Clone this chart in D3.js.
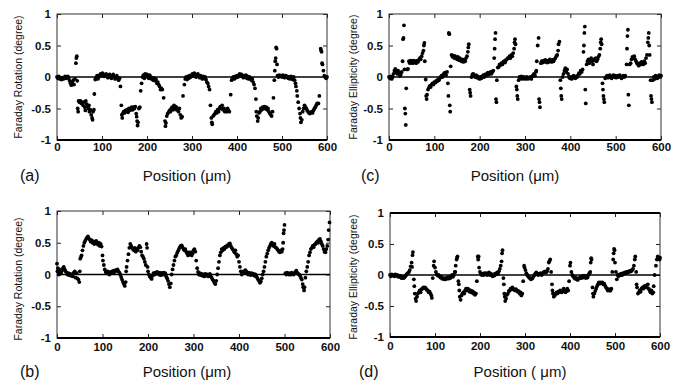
<!DOCTYPE html>
<html>
<head>
<meta charset="utf-8">
<script src="https://cdn.jsdelivr.net/npm/d3@7"></script>
<style>
  body { margin: 0; background: #fff; }
  text { font-family: "Liberation Sans", Arial, sans-serif; fill: #111; }
</style>
</head>
<body>
<svg id="chart" width="680" height="381"></svg>
<script>
// axis ticks shared by all four panels
const positionTicks = [0, 100, 200, 300, 400, 500, 600];
const degreeTicks = [-1, -0.5, 0, 0.5, 1];
const degreeLabels = ['-1', '-0.5', '0', '0.5', '1'];

// (a) Faraday rotation, [position um, degree]
const rotationA = [
  [0,0],[2,-0.02],[4,0.01],[6,-0.03],[8,-0.02],[10,-0.04],[12,-0.01],[14,-0.03],[16,-0.02],[18,0.01],[20,-0.02],[22,0],[24,0.01],[26,-0.02],[28,-0.06],[30,-0.1],[32,-0.13],[34,-0.08],[36,-0.05],[38,-0.12],[40,-0.03],[42,0.22],[43,0.3],[44,0.33],[45,-0.06],
  [46,-0.5],[47,-0.55],[48,-0.38],[50,-0.4],[52,-0.38],[54,-0.42],[56,-0.4],[58,-0.45],[60,-0.4],[62,-0.48],[63,-0.53],[64,-0.38],[66,-0.43],[68,-0.47],[70,-0.5],[71,-0.45],[72,-0.55],[74,-0.52],[76,-0.6],[78,-0.65],[79,-0.68],[80,-0.55],[82,-0.52],[83,-0.27],
  [85,-0.04],[87,-0.01],[89,0.02],[91,-0.03],[93,0],[95,0.03],[97,0.05],[99,0.02],[101,0.06],[103,0.04],[105,0.01],[107,0.03],[109,0.05],[111,0.02],[113,-0.01],[115,0.02],[117,0.04],[119,0],[121,-0.02],[123,0.02],[125,0.04],[127,0.01],[129,-0.03],[131,0],[133,0.02],[135,-0.02],[137,-0.05],[139,-0.02],[141,-0.15],
  [143,-0.45],[144,-0.6],[145,-0.65],[146,-0.58],[148,-0.55],[150,-0.57],[152,-0.53],[154,-0.55],[156,-0.52],[158,-0.56],[160,-0.5],[162,-0.53],[164,-0.5],[166,-0.48],[168,-0.52],[170,-0.48],[172,-0.5],[174,-0.47],[176,-0.58],[177,-0.63],[178,-0.7],[179,-0.77],[180,-0.72],[182,-0.5],[184,-0.48],[186,-0.22],
  [188,-0.1],[190,0],[192,0.03],[194,-0.02],[196,0.05],[198,0.02],[200,0.04],[202,0],[204,-0.02],[206,0.03],[208,0],[210,-0.03],[212,-0.01],[214,-0.05],[216,-0.02],[218,-0.06],[220,-0.04],[222,-0.1],[224,-0.08],[226,-0.12],[228,-0.15],[230,-0.2],[232,-0.18],[234,-0.2],[237,-0.33],
  [240,-0.7],[241,-0.78],[242,-0.73],[244,-0.62],[246,-0.58],[248,-0.56],[250,-0.53],[252,-0.55],[254,-0.5],[256,-0.48],[258,-0.52],[260,-0.45],[262,-0.5],[264,-0.47],[266,-0.52],[268,-0.5],[270,-0.55],[272,-0.5],[274,-0.6],[276,-0.65],[278,-0.63],[280,-0.3],
  [283,-0.12],[285,-0.03],[287,0],[289,-0.04],[291,0.01],[293,-0.02],[295,0.02],[297,0],[299,0.03],[301,0.05],[303,0.02],[305,0.06],[307,0.04],[309,0],[311,0.03],[313,0.05],[315,0.01],[317,-0.01],[319,0.02],[321,0],[323,-0.03],[325,0.01],[327,-0.02],[329,0],[331,-0.04],[333,-0.08],[335,-0.1],[337,-0.15],[339,-0.2],
  [341,-0.45],[343,-0.65],[344,-0.72],[345,-0.75],[347,-0.62],[349,-0.6],[351,-0.58],[353,-0.55],[355,-0.57],[357,-0.52],[359,-0.55],[361,-0.5],[363,-0.47],[365,-0.5],[367,-0.45],[369,-0.52],[371,-0.5],[373,-0.55],[375,-0.52],[377,-0.55],[379,-0.5],[381,-0.53],[383,-0.55],[386,-0.28],
  [388,-0.05],[390,-0.02],[392,0],[394,-0.03],[396,0.01],[398,-0.01],[400,0.02],[402,0],[404,0.03],[406,0.05],[408,0.02],[410,0.04],[412,0.01],[414,-0.01],[416,0.02],[418,0],[420,0.03],[422,-0.02],[424,0.01],[426,-0.03],[428,0],[430,-0.02],[432,-0.05],[434,-0.03],[436,-0.08],[438,-0.12],[440,-0.18],
  [442,-0.35],[443,-0.55],[444,-0.62],[446,-0.7],[447,-0.65],[449,-0.57],[451,-0.55],[453,-0.5],[455,-0.52],[457,-0.48],[459,-0.5],[461,-0.47],[463,-0.5],[465,-0.48],[467,-0.52],[469,-0.5],[471,-0.55],[473,-0.58],[475,-0.6],[477,-0.62],[479,-0.55],[481,-0.33],
  [483,-0.05],[484,0.1],[485,0.25],[486,0.3],[487,0.47],[488,0.45],[489,0.2],[490,0.02],[492,0],[494,0.03],[496,0.01],[498,0.02],[500,0],[502,0.03],[504,0.01],[506,-0.01],[508,0.02],[510,0],[512,0.01],[514,-0.02],[516,0],[518,-0.03],[520,0.01],[522,-0.02],[524,-0.04],[526,0],[528,-0.05],
  [530,-0.1],[531,-0.15],[533,-0.22],[534,-0.3],[536,-0.4],[538,-0.5],[540,-0.58],[541,-0.65],[542,-0.72],[544,-0.68],[546,-0.55],[548,-0.5],[550,-0.45],[552,-0.48],[554,-0.5],[556,-0.53],[558,-0.55],[560,-0.57],[562,-0.58],[564,-0.56],[566,-0.55],[568,-0.57],[570,-0.53],[572,-0.5],[574,-0.48],[576,-0.45],[578,-0.42],[581,-0.42],[583,-0.3],
  [586,0.45],[587,0.42],[588,0.4],[589,0.22],[590,0.2],[592,0.1],[594,0.02],[596,0],[598,-0.02],[600,0]
];

// (b) Faraday rotation
const rotationB = [
  [0,0.17],[1,0.05],[2,0.1],[4,0],[5,0.08],[7,0.04],[9,0.02],[11,0.06],[13,0.1],[15,0.12],[17,0.08],[19,0.05],[21,0.03],[23,0],[25,0.02],[27,-0.01],[29,0.01],[31,-0.02],[33,0],[35,-0.03],[37,0.03],[39,0.05],[41,-0.05],[43,0.02],[45,-0.06],[47,-0.08],[49,-0.12],[50,0.05],
  [51,0.25],[53,0.28],[54,0.3],[56,0.38],[58,0.45],[60,0.5],[62,0.53],[64,0.56],[66,0.58],[68,0.6],[70,0.57],[72,0.55],[74,0.52],[76,0.54],[78,0.5],[80,0.52],[82,0.48],[84,0.5],[86,0.53],[88,0.5],[90,0.47],[92,0.5],[94,0.45],[96,0.48],[98,0.44],
  [100,0.3],[101,0.22],[103,0.15],[105,0.08],[107,0.04],[109,0.02],[111,0.05],[113,0.03],[115,0],[117,0.04],[119,0.02],[121,0.05],[123,0.03],[125,0.06],[127,0.04],[129,0.07],[131,0.06],[133,0.08],[135,0.05],[137,0.03],[139,0],[141,-0.04],[143,-0.08],[145,-0.12],[147,-0.15],[149,-0.18],[151,-0.12],
  [152,0.05],[153,0.12],[155,0.22],[157,0.32],[159,0.42],[161,0.48],[163,0.45],[165,0.42],[167,0.4],[169,0.38],[171,0.42],[173,0.36],[175,0.4],[177,0.38],[179,0.42],[181,0.45],[183,0.43],[185,0.36],[187,0.3],[189,0.28],[191,0.25],[193,0.2],[195,0.15],[197,0.48],[198,0.42],
  [199,0.12],[200,0.05],[202,0],[204,-0.03],[206,-0.05],[208,-0.07],[210,-0.02],[212,0.02],[214,0],[216,0.03],[218,0.01],[220,0.04],[222,0.02],[224,0],[226,0.03],[228,-0.01],[230,0.02],[232,0],[234,0.03],[236,0],[238,0.02],[240,-0.03],[242,-0.06],[244,-0.1],[246,-0.15],[248,-0.2],[250,-0.14],
  [252,0],[254,0.08],[256,0.15],[258,0.22],[260,0.28],[262,0.3],[264,0.34],[266,0.37],[268,0.4],[270,0.43],[272,0.45],[274,0.46],[276,0.43],[278,0.4],[280,0.38],[282,0.4],[284,0.36],[286,0.33],[288,0.3],[290,0.35],[292,0.32],[294,0.35],[296,0.3],[298,0.33],[300,0.38],[302,0.4],[304,0.36],[306,0.22],[308,0.1],[310,0.04],[312,0],
  [314,0.02],[316,-0.01],[318,0.01],[320,-0.02],[322,0],[324,-0.03],[326,0.01],[328,-0.01],[330,0],[332,-0.03],[334,-0.02],[336,0.01],[338,-0.03],[340,-0.05],[342,-0.08],[344,-0.1],[346,-0.13],[348,-0.15],[350,-0.1],
  [352,0],[354,0.1],[356,0.2],[358,0.3],[360,0.35],[362,0.4],[364,0.38],[366,0.42],[368,0.4],[370,0.44],[372,0.43],[374,0.46],[376,0.45],[378,0.48],[380,0.49],[382,0.45],[384,0.42],[386,0.4],[388,0.38],[390,0.35],[392,0.38],[394,0.32],[396,0.28],[398,0.3],[400,0.2],[402,0.12],[404,0.05],[406,0],
  [408,0.02],[410,0.05],[412,0.03],[414,0.07],[416,0.05],[418,0.02],[420,0],[422,0.03],[424,0.01],[426,-0.01],[428,0.02],[430,0],[432,0.01],[434,-0.02],[436,0],[438,-0.03],[440,-0.05],[442,-0.08],[444,-0.1],[446,-0.13],[448,-0.11],[450,-0.06],
  [452,0],[454,0.05],[456,0.12],[458,0.2],[460,0.28],[462,0.33],[464,0.38],[466,0.42],[468,0.45],[470,0.48],[472,0.5],[474,0.47],[476,0.45],[478,0.48],[480,0.43],[482,0.42],[484,0.4],[486,0.38],[488,0.36],[490,0.35],[492,0.38],[494,0.36],[496,0.4],[497,0.5],[498,0.65],[499,0.7],[500,0.78],
  [502,0.02],[504,0],[506,0.03],[508,0.01],[510,0],[512,0.02],[514,0],[516,0.03],[518,0.01],[520,0],[522,0.02],[524,0.04],[526,0.06],[528,0.03],[530,0.01],[532,0],[534,-0.02],[536,-0.05],[538,-0.08],[540,-0.15],[541,-0.2],[543,-0.25],[544,-0.2],
  [546,-0.05],[548,0.05],[550,0.12],[552,0.2],[554,0.3],[556,0.35],[558,0.4],[560,0.42],[562,0.45],[564,0.43],[566,0.47],[568,0.48],[570,0.5],[572,0.52],[574,0.5],[576,0.55],[578,0.56],[580,0.52],[582,0.48],[584,0.45],[586,0.4],[588,0.36],[590,0.35],[592,0.4],[594,0.45],[596,0.55],[597,0.7],[599,0.82]
];

// (c) Faraday ellipticity
const ellipticityC = [
  [0,0],[2,-0.02],[4,0.01],[6,-0.03],[8,0],[10,0.05],[12,0.1],[14,0.13],[16,0.08],[18,0.05],[20,0.1],[22,0.06],[24,0.02],[26,0.04],[28,0.08],[30,0.25],[31,0.6],[32,0.62],[33,0.82],[34,0.12],[35,-0.5],[36,-0.58],[37,-0.76],[38,-0.18],[40,0.12],[42,0.13],
  [44,0.25],[46,0.22],[48,0.26],[50,0.24],[52,0.22],[54,0.26],[56,0.23],[58,0.25],[60,0.22],[62,0.26],[64,0.24],[66,0.27],[68,0.3],[70,0.28],[72,0.33],[74,0.38],[76,0.42],[77,0.5],[78,0.54],[79,0.25],
  [81,-0.04],[82,-0.3],[83,-0.35],[84,-0.28],[86,-0.2],[88,-0.17],[90,-0.14],[92,-0.16],[94,-0.12],[96,-0.1],[98,-0.12],[100,-0.08],[102,-0.09],[104,-0.06],[106,-0.07],[108,-0.04],[110,-0.05],[112,-0.02],[114,0],[116,0.02],[118,0],[120,0.04],[122,0.06],[124,0.07],[126,0.03],[128,0.08],
  [130,-0.1],[131,-0.3],[132,0.7],[133,0.68],[134,-0.45],[135,-0.55],[136,0.17],[138,0.35],[140,0.32],[142,0.34],[144,0.3],[146,0.33],[148,0.3],[150,0.28],[152,0.32],[154,0.27],[156,0.3],[158,0.26],[160,0.25],[162,0.28],[164,0.24],[166,0.27],[168,0.25],[170,0.3],[172,0.33],[174,0.4],[175,0.47],[176,0.52],
  [178,-0.2],[179,-0.25],[180,-0.3],[182,0],[184,0.04],[186,0.05],[188,0.02],[190,0],[192,0.03],[194,-0.01],[196,0.01],[198,-0.02],[200,-0.03],[202,0],[204,-0.02],[206,0.01],[208,0.03],[210,0],[212,0.04],[214,0.02],[216,0.05],[218,0.07],[220,0.04],[222,0.06],[224,0.08],[226,0.05],[228,0.08],[230,0.1],
  [232,0.3],[233,0.45],[234,0.6],[235,0.7],[236,-0.35],[237,-0.4],[238,-0.05],[240,0.15],[242,0.16],[244,0.2],[246,0.19],[248,0.22],[250,0.2],[252,0.24],[254,0.25],[256,0.23],[258,0.27],[260,0.28],[262,0.3],[264,0.3],[266,0.33],[268,0.3],[270,0.35],[272,0.33],[274,0.38],[276,0.45],[277,0.55],[278,0.6],[279,0.52],
  [281,-0.15],[282,-0.2],[283,-0.3],[284,-0.35],[286,-0.05],[288,0],[290,-0.02],[292,0.01],[294,-0.03],[296,-0.01],[298,0],[300,-0.03],[302,-0.02],[304,0],[306,-0.03],[308,-0.01],[310,-0.02],[312,0],[314,-0.03],[316,0.01],[318,0.03],[320,0.05],[322,0.02],[324,0.08],[325,0.1],
  [326,0.25],[328,0.5],[330,0.62],[331,-0.35],[332,-0.4],[333,-0.48],[335,0.22],[337,0.25],[339,0.23],[341,0.26],[343,0.24],[345,0.27],[347,0.25],[349,0.23],[351,0.26],[353,0.24],[355,0.28],[357,0.26],[359,0.24],[361,0.27],[363,0.25],[365,0.28],[367,0.3],[369,0.33],[371,0.35],[373,0.42],[374,0.52],[376,0.56],
  [378,-0.05],[379,-0.18],[380,-0.3],[381,-0.35],[383,0],[385,0.05],[387,0.1],[389,0.14],[391,0.08],[393,0.12],[395,0.05],[397,0],[399,-0.02],[401,0],[403,-0.03],[405,-0.01],[407,0.02],[409,0],[411,-0.02],[413,0.01],[415,0],[417,0.03],[419,0.06],[421,0.05],[423,0.1],[425,0.08],[427,0.12],
  [429,0.4],[430,0.5],[431,0.7],[432,0.8],[433,-0.2],[434,-0.42],[436,0.2],[438,0.25],[440,0.28],[442,0.22],[444,0.27],[446,0.3],[448,0.25],[450,0.2],[452,0.28],[454,0.26],[456,0.3],[458,0.25],[460,0.28],[462,0.32],[464,0.35],[466,0.45],[467,0.55],[468,0.6],[469,0.52],
  [471,-0.1],[472,-0.2],[473,-0.3],[474,-0.35],[475,-0.4],[477,-0.02],[479,0],[481,0.02],[483,-0.01],[485,0],[487,0.03],[489,0],[491,-0.02],[493,0.01],[495,0.03],[497,0],[499,0.02],[501,-0.01],[503,0],[505,0.02],[507,0],[509,0.03],[511,0.01],[513,-0.02],[515,0],[517,0.02],[519,0],[521,0.02],
  [524,0.2],[525,0.45],[526,0.65],[527,0.75],[528,-0.28],[529,-0.45],[531,0.2],[533,0.22],[535,0.28],[537,0.32],[539,0.3],[541,0.33],[543,0.28],[545,0.25],[547,0.22],[549,0.2],[551,0.18],[553,0.22],[555,0.2],[557,0.24],[559,0.22],[561,0.2],[563,0.25],[565,0.22],[567,0.3],[569,0.35],[571,0.55],[572,0.62],[573,0.7],[574,0.5],[575,0.35],
  [577,-0.05],[578,-0.3],[579,-0.35],[580,-0.4],[582,-0.05],[584,0],[586,-0.03],[588,0.02],[590,0],[592,-0.02],[594,0.01],[596,0.03],[598,0],[600,0.02]
];

// (d) Faraday ellipticity
const ellipticityD = [
  [0,0],[2,-0.02],[4,0.01],[6,-0.01],[8,0],[10,-0.02],[12,0.01],[14,-0.01],[16,0],[18,-0.03],[20,-0.02],[22,-0.01],[24,-0.04],[26,-0.05],[28,-0.03],[30,-0.05],[32,-0.04],[34,-0.02],[36,0],[38,0.02],[40,0.03],[42,0.05],[44,0.08],[46,0.14],[48,0.2],[49,0.13],[50,0.32],[51,0.37],
  [53,-0.07],[54,-0.18],[55,-0.3],[57,-0.38],[58,-0.42],[60,-0.35],[62,-0.3],[64,-0.28],[66,-0.25],[68,-0.28],[70,-0.23],[72,-0.22],[74,-0.2],[76,-0.21],[78,-0.2],[80,-0.22],[82,-0.24],[84,-0.25],[86,-0.28],[88,-0.27],[90,-0.3],[92,-0.33],[93,-0.37],[95,-0.05],
  [97,0.15],[98,0.22],[100,0.12],[102,0.05],[104,0.01],[106,-0.01],[108,0],[110,-0.02],[112,-0.04],[114,-0.03],[116,-0.06],[118,-0.05],[120,-0.07],[122,-0.05],[124,-0.07],[126,-0.05],[128,-0.04],[130,-0.06],[132,-0.03],[134,-0.05],[136,-0.02],[138,0],[140,-0.03],[142,0],[144,0.05],
  [145,0.05],[146,0.15],[148,0.25],[149,0.28],[150,0.3],[152,-0.1],[153,-0.15],[154,-0.25],[155,-0.35],[157,-0.4],[159,-0.33],[161,-0.3],[163,-0.28],[165,-0.3],[167,-0.25],[169,-0.22],[171,-0.25],[173,-0.22],[175,-0.24],[177,-0.27],[179,-0.25],[181,-0.28],[183,-0.26],[185,-0.3],[187,-0.28],[189,-0.32],[191,-0.3],[193,-0.1],
  [195,0.3],[196,0.25],[197,0.3],[198,0.12],[200,0.05],[202,0.02],[204,0],[206,0.02],[208,0],[210,0.03],[212,0.01],[214,0.03],[216,0],[218,0.02],[220,0.04],[222,0],[224,0.02],[226,0],[228,-0.02],[230,0.01],[232,-0.01],[234,0.02],[236,0.01],[238,0.04],[240,0.02],[242,0.06],[244,0.1],[246,0.15],[248,0.22],[249,0.35],[250,0.4],
  [252,-0.05],[253,-0.15],[254,-0.3],[255,-0.35],[256,-0.42],[258,-0.38],[260,-0.32],[262,-0.3],[264,-0.26],[266,-0.25],[268,-0.22],[270,-0.23],[272,-0.2],[274,-0.22],[276,-0.24],[278,-0.25],[280,-0.23],[282,-0.25],[284,-0.27],[286,-0.26],[288,-0.3],[290,-0.28],[292,-0.33],[294,-0.3],[296,-0.1],
  [298,0.15],[299,0.12],[301,0.08],[303,0.03],[305,0],[307,-0.02],[309,-0.04],[311,-0.05],[313,-0.07],[315,-0.06],[317,-0.05],[319,-0.02],[321,0],[323,0.02],[325,0.04],[327,0.02],[329,0],[331,0.02],[333,0.01],[335,0.03],[337,0],[339,0.02],[341,0.04],[343,0.05],[345,0.06],[347,0.04],[349,0.06],[351,0.1],
  [353,0.2],[354,0.22],[356,0.25],[358,0.05],[360,-0.15],[361,-0.25],[362,-0.3],[364,-0.35],[366,-0.33],[368,-0.3],[370,-0.28],[372,-0.3],[374,-0.27],[376,-0.28],[378,-0.25],[380,-0.27],[382,-0.28],[384,-0.25],[386,-0.22],[388,-0.25],[390,-0.28],[392,-0.26],[394,-0.22],[396,-0.25],[398,-0.1],
  [400,0.15],[401,0.2],[403,0.05],[405,0],[407,-0.02],[409,-0.04],[411,-0.06],[413,-0.04],[415,-0.07],[417,-0.08],[419,-0.06],[421,-0.05],[423,-0.03],[425,-0.05],[427,-0.02],[429,-0.04],[431,-0.01],[433,-0.03],[435,-0.05],[437,-0.02],[439,-0.04],[441,0],[443,0.03],[445,0.05],
  [446,0.2],[447,0.27],[448,0.25],[450,-0.2],[451,-0.3],[452,-0.35],[454,-0.3],[456,-0.26],[458,-0.22],[460,-0.18],[462,-0.15],[464,-0.12],[466,-0.14],[468,-0.12],[470,-0.13],[472,-0.12],[474,-0.15],[476,-0.14],[478,-0.17],[480,-0.2],[482,-0.22],[484,-0.25],[486,-0.23],[488,-0.25],[490,-0.25],[492,-0.22],
  [494,0.05],[496,0.25],[497,0.35],[498,0.42],[499,0.4],[500,0.2],[502,0.05],[504,-0.07],[506,0],[508,-0.02],[510,0.01],[512,0],[514,0.02],[516,0],[518,0.03],[520,0.02],[522,0.04],[524,0.03],[526,0.05],[528,0.04],[530,0.06],[532,0.05],[534,0.07],[536,0.06],[538,0.08],[540,0.1],[542,0.15],[544,0.25],[545,0.3],[547,0.05],[548,-0.15],[549,-0.2],
  [551,-0.3],[553,-0.28],[555,-0.25],[557,-0.27],[559,-0.22],[561,-0.2],[563,-0.22],[565,-0.18],[567,-0.2],[569,-0.17],[571,-0.2],[573,-0.15],[575,-0.22],[577,-0.25],[579,-0.28],[581,-0.25],[583,-0.3],[585,-0.28],[586,-0.18],
  [588,0],[591,0.15],[593,0.25],[595,0.3],[597,0.27],[599,0.25],[600,0.28]
];

const panels = [
  { data: rotationA, letter: '(a)', yTitle: 'Faraday Rotation (degree)', xTitle: 'Position (\u03bcm)',
    left: 57, right: 327, top: 14, bottom: 140, pad: 3, titleX: 18, titleY: 77, letterX: 20, letterY: 181, xTitleX: 187, xTitleY: 181, thickTop: false },
  { data: rotationB, letter: '(b)', yTitle: 'Faraday Rotation (degree)', xTitle: 'Position (\u03bcm)',
    left: 57, right: 330, top: 211, bottom: 338, pad: 5, titleX: 18, titleY: 279, letterX: 20, letterY: 377, xTitleX: 187, xTitleY: 377, thickTop: false },
  { data: ellipticityC, letter: '(c)', yTitle: 'Faraday Ellipticity (degree)', xTitle: 'Position (\u03bcm)',
    left: 389, right: 661, top: 14, bottom: 140, pad: 3, titleX: 353, titleY: 77, letterX: 361, letterY: 181, xTitleX: 515, xTitleY: 181, thickTop: false },
  { data: ellipticityD, letter: '(d)', yTitle: 'Faraday Ellipticity (degree)', xTitle: 'Position ( \u03bcm)',
    left: 390, right: 660, top: 213, bottom: 337, pad: 5, titleX: 353, titleY: 277, letterX: 359, letterY: 377, xTitleX: 520, xTitleY: 377, thickTop: true }
];

const svg = d3.select('#chart');

panels.forEach(p => drawPanel(p));

function drawPanel(p) {
  const x = d3.scaleLinear().domain([0, 600]).range([p.left, p.right]);
  const y = d3.scaleLinear().domain([-1, 1]).range([p.bottom, p.top]);
  const g = svg.append('g');

  // inward ticks on all four sides, labels only left and bottom
  const tickStyle = sel => {
    sel.select('.domain').remove();
    sel.selectAll('line').attr('stroke', '#222');
    sel.selectAll('text').style('font-size', '11.5px').style('font-weight', 'bold').attr('fill', '#111');
  };
  g.append('g').attr('transform', `translate(0,${p.bottom})`)
    .call(d3.axisBottom(x).tickValues(positionTicks).tickSize(-4).tickPadding(p.pad))
    .call(tickStyle);
  g.append('g').attr('transform', `translate(0,${p.top})`)
    .call(d3.axisTop(x).tickValues(positionTicks).tickSize(-4).tickFormat(''))
    .call(tickStyle);
  g.append('g').attr('transform', `translate(${p.left},0)`)
    .call(d3.axisLeft(y).tickValues(degreeTicks).tickSize(-4).tickPadding(6).tickFormat((d, i) => degreeLabels[i]))
    .call(tickStyle);
  g.append('g').attr('transform', `translate(${p.right},0)`)
    .call(d3.axisRight(y).tickValues(degreeTicks).tickSize(-4).tickFormat(''))
    .call(tickStyle);

  // frame
  g.append('rect')
    .attr('x', p.left).attr('y', p.top)
    .attr('width', p.right - p.left).attr('height', p.bottom - p.top)
    .attr('fill', 'none').attr('stroke', '#333').attr('stroke-width', 1);
  g.append('line')
    .attr('x1', p.left).attr('x2', p.right).attr('y1', p.bottom).attr('y2', p.bottom)
    .attr('stroke', '#000').attr('stroke-width', 2);
  if (p.thickTop) {
    g.append('line')
      .attr('x1', p.left).attr('x2', p.right).attr('y1', p.top).attr('y2', p.top)
      .attr('stroke', '#000').attr('stroke-width', 2);
  }

  // zero line
  g.append('line')
    .attr('x1', p.left).attr('x2', p.right).attr('y1', y(0)).attr('y2', y(0))
    .attr('stroke', '#000').attr('stroke-width', 1.5);

  g.append('g').selectAll('circle')
    .data(p.data)
    .enter()
    .append('circle')
    .attr('cx', d => x(d[0]))
    .attr('cy', d => y(d[1]))
    .attr('r', 1.9)
    .attr('fill', '#000');

  g.append('text')
    .attr('transform', `translate(${p.titleX},${p.titleY}) rotate(-90)`)
    .attr('text-anchor', 'middle')
    .attr('dy', '0.35em')
    .style('font-size', '10.5px')
    .text(p.yTitle);

  g.append('text')
    .attr('x', p.xTitleX).attr('y', p.xTitleY)
    .attr('text-anchor', 'middle')
    .style('font-size', '15px')
    .text(p.xTitle);

  g.append('text')
    .attr('x', p.letterX).attr('y', p.letterY)
    .style('font-size', '16px')
    .text(p.letter);
}
</script>
</body>
</html>
